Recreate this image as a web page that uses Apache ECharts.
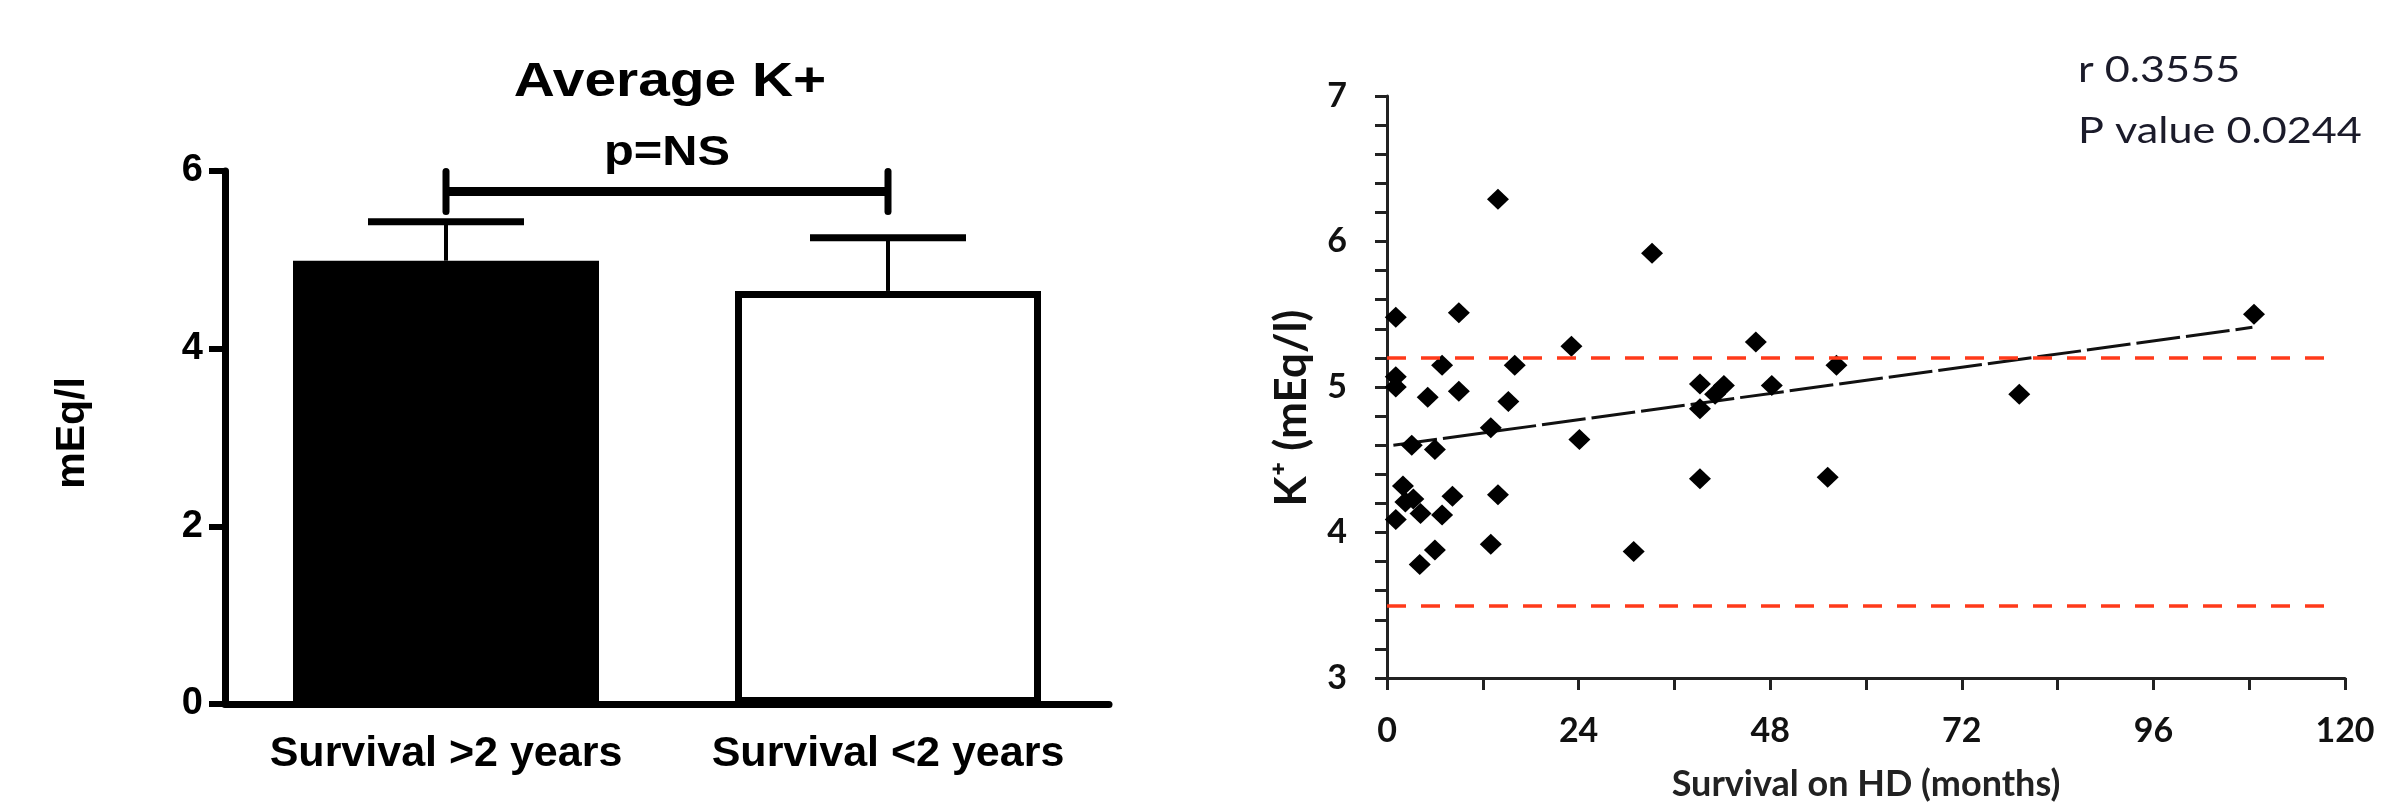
<!DOCTYPE html>
<html>
<head>
<meta charset="utf-8">
<title>Average K+ / K+ vs survival</title>
<script src="https://cdn.jsdelivr.net/npm/echarts@6/dist/echarts.min.js"></script>
<style>
html, body { margin: 0; padding: 0; background: #fff; }
#chart { width: 2389px; height: 807px; }
</style>
</head>
<body>
<div id="chart"></div>
<script>
// left panel: group means + upper SEM
var groups = ['Survival >2 years', 'Survival <2 years'];
var means = [4.99, 4.65];
var upper = [5.43, 5.25];
var bracketY = 5.77;   // p=NS bracket height
var barTicks = [0, 2, 4, 6];

// right panel: K+ vs months on HD
var months = [13.9, 33.2, 1.1, 9.0, 108.6, 23.1, 46.2, 6.9, 16.0, 56.3,
              1.1, 1.1, 5.1, 9.0, 15.2, 39.2, 41.1, 42.2, 48.2, 79.2,
              39.2, 13.0, 3.1, 6.0, 24.1, 2.0, 2.3, 3.3, 8.2, 13.9,
              39.2, 55.2, 1.1, 4.2, 6.9, 6.0, 4.1, 13.0, 30.9];
var potassium = [6.29, 5.92, 5.48, 5.51, 5.50, 5.28, 5.31, 5.15, 5.15, 5.15,
                 5.07, 5.00, 4.93, 4.97, 4.90, 5.02, 4.95, 5.01, 5.01, 4.95,
                 4.85, 4.72, 4.60, 4.57, 4.64, 4.32, 4.21, 4.23, 4.25, 4.26,
                 4.37, 4.38, 4.09, 4.13, 4.12, 3.88, 3.78, 3.92, 3.87];
var trendX = [0.8, 108.4];
var trendY = [4.60, 5.41];
var refLow = 3.5, refHigh = 5.2, refEnd = 118;
var stats = ['r 0.3555', 'P value 0.0244'];

var points = months.map(function (m, i) { return [m, potassium[i]]; });
var trend = trendX.map(function (x, i) { return [x, trendY[i]]; });
var errData = means.map(function (m, i) { return [i, m, upper[i]]; });

var chart = echarts.init(document.getElementById('chart'));

var arial = '"Liberation Sans", Arial, sans-serif';
var lato = 'Lato, "Open Sans", sans-serif';

var option = {
    animation: false,
    backgroundColor: '#fff',
    graphic: [
        {
            type: 'text', x: 670, y: 82, scaleX: 1.16,
            style: { text: 'Average K+', font: 'bold 49px ' + arial, fill: '#000', textAlign: 'center', textVerticalAlign: 'middle' }
        },
        {
            type: 'text', x: 73, y: 433, rotation: Math.PI / 2,
            style: { text: 'mEq/l', font: 'bold 41px ' + arial, fill: '#000', textAlign: 'center', textVerticalAlign: 'middle' }
        },
        {
            type: 'text', x: 1292, y: 408, rotation: Math.PI / 2,
            style: { text: 'K\u207A (mEq/l)', font: 'bold 44px ' + lato, fill: '#111', textAlign: 'center', textVerticalAlign: 'middle' }
        },
        {
            type: 'text', x: 2078, y: 70, scaleX: 1.2,
            style: { text: stats[0], font: '36px ' + lato, fill: '#1b1b2a', textVerticalAlign: 'middle' }
        },
        {
            type: 'text', x: 2078, y: 131, scaleX: 1.2,
            style: { text: stats[1], font: '36px ' + lato, fill: '#1b1b2a', textVerticalAlign: 'middle' }
        }
    ],
    grid: [
        { left: 225, right: 1280, top: 171, bottom: 103 },
        { left: 1387, right: 44, top: 96, bottom: 123 }
    ],
    xAxis: [
        {
            gridIndex: 0,
            type: 'category',
            data: groups,
            boundaryGap: true,
            axisLine: { lineStyle: { color: '#000', width: 7 } },
            axisTick: { alignWithLabel: true, interval: 0, length: 24, lineStyle: { color: '#000', width: 7 } },
            axisLabel: { interval: 0, margin: 29, color: '#000', fontFamily: arial, fontWeight: 'bold', fontSize: 43 },
            splitLine: { show: false }
        },
        {
            gridIndex: 1,
            type: 'value',
            min: 0, max: 120, interval: 24,
            name: 'Survival on HD (months)',
            nameLocation: 'middle',
            nameGap: 88,
            nameTextStyle: { fontFamily: lato, fontWeight: 'bold', fontSize: 36, color: '#222' },
            axisLine: { lineStyle: { color: '#222', width: 3 } },
            axisTick: { length: 12, lineStyle: { color: '#222', width: 3 } },
            minorTick: { show: true, splitNumber: 2, length: 12, lineStyle: { color: '#222', width: 3 } },
            axisLabel: { margin: 36, color: '#111', fontFamily: lato, fontWeight: 'bold', fontSize: 34 },
            splitLine: { show: false },
            minorSplitLine: { show: false }
        }
    ],
    yAxis: [
        {
            gridIndex: 0,
            type: 'value',
            min: 0, max: 6, interval: 2,
            axisLine: { show: true, lineStyle: { color: '#000', width: 7 } },
            axisTick: { show: true, length: 16, lineStyle: { color: '#000', width: 6 } },
            axisLabel: { margin: 22, color: '#000', fontFamily: arial, fontWeight: 'bold', fontSize: 38,
                customValues: barTicks },
            splitLine: { show: false }
        },
        {
            gridIndex: 1,
            type: 'value',
            min: 3, max: 7, interval: 1,
            axisLine: { show: true, lineStyle: { color: '#222', width: 3 } },
            axisTick: { show: true, length: 12, lineStyle: { color: '#222', width: 3 } },
            minorTick: { show: true, splitNumber: 5, length: 12, lineStyle: { color: '#222', width: 3 } },
            axisLabel: { margin: 40, color: '#111', fontFamily: lato, fontWeight: 'bold', fontSize: 34 },
            splitLine: { show: false },
            minorSplitLine: { show: false }
        }
    ],
    series: [
        {
            type: 'bar',
            xAxisIndex: 0, yAxisIndex: 0,
            barWidth: 306,
            data: [
                { value: means[0], itemStyle: { color: '#000' } },
                { value: means[1], itemStyle: { color: '#fff', borderColor: '#000', borderWidth: 7 } }
            ],
            z: 2
        },
        {
            // SEM whiskers
            type: 'custom',
            xAxisIndex: 0, yAxisIndex: 0,
            data: errData,
            z: 3,
            renderItem: function (params, api) {
                var base = api.coord([api.value(0), api.value(1)]);
                var top = api.coord([api.value(0), api.value(2)]);
                var hw = 78;
                return {
                    type: 'group',
                    children: [
                        { type: 'line', shape: { x1: base[0], y1: base[1], x2: top[0], y2: top[1] },
                          style: { stroke: '#000', lineWidth: 4 } },
                        { type: 'line', shape: { x1: top[0] - hw, y1: top[1], x2: top[0] + hw, y2: top[1] },
                          style: { stroke: '#000', lineWidth: 7 } }
                    ]
                };
            }
        },
        {
            // p=NS bracket
            type: 'custom',
            xAxisIndex: 0, yAxisIndex: 0,
            data: [[0, 1, bracketY]],
            z: 3,
            renderItem: function (params, api) {
                var a = api.coord([api.value(0), api.value(2)]);
                var b = api.coord([api.value(1), api.value(2)]);
                return {
                    type: 'group',
                    children: [
                        { type: 'line', shape: { x1: a[0], y1: a[1], x2: b[0], y2: b[1] },
                          style: { stroke: '#000', lineWidth: 9 } },
                        { type: 'line', shape: { x1: a[0], y1: a[1] - 20, x2: a[0], y2: a[1] + 20 },
                          style: { stroke: '#000', lineWidth: 7, lineCap: 'round' } },
                        { type: 'line', shape: { x1: b[0], y1: b[1] - 20, x2: b[0], y2: b[1] + 20 },
                          style: { stroke: '#000', lineWidth: 7, lineCap: 'round' } },
                        { type: 'text', x: (a[0] + b[0]) / 2, y: a[1] - 38, scaleX: 1.16,
                          style: { text: 'p=NS', font: 'bold 42px ' + arial, fill: '#000',
                                   textAlign: 'center', textVerticalAlign: 'middle' } }
                    ]
                };
            }
        },
        {
            type: 'scatter',
            xAxisIndex: 1, yAxisIndex: 1,
            symbol: 'diamond',
            symbolSize: [22, 21],
            itemStyle: { color: '#000', opacity: 1 },
            data: points,
            z: 4,
            markLine: {
                silent: true,
                symbol: 'none',
                label: { show: false },
                lineStyle: { color: '#ff3a1a', width: 3.5, type: [19, 15] },
                data: [
                    [{ coord: [0, refHigh] }, { coord: [refEnd, refHigh] }],
                    [{ coord: [0, refLow] }, { coord: [refEnd, refLow] }]
                ]
            }
        },
        {
            type: 'line',
            xAxisIndex: 1, yAxisIndex: 1,
            data: trend,
            symbol: 'none',
            lineStyle: { color: '#111', width: 3, type: [44, 6] },
            z: 3
        }
    ]
};

chart.setOption(option);
</script>
</body>
</html>
